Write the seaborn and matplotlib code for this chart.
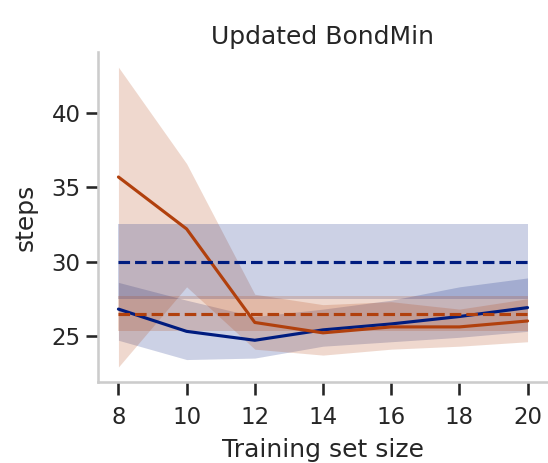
import matplotlib as mpl
mpl.use("Agg")
import matplotlib.pyplot as plt
import seaborn as sns
import numpy as np
import pandas as pd

# training set sizes
sizes = [8, 10, 12, 14, 16, 18, 20]

# blue model: mean and band
blue_mean = [26.8, 25.3, 24.7, 25.4, 25.8, 26.3, 26.9]
blue_hi = [28.6, 27.4, 26.3, 26.8, 27.4, 28.3, 28.9]
blue_lo = [24.7, 23.4, 23.5, 24.3, 24.6, 24.9, 25.3]

# orange model: mean and band
orange_mean = [35.7, 32.2, 25.9, 25.2, 25.6, 25.6, 26.0]
orange_hi = [43.1, 36.6, 27.8, 27.1, 27.3, 26.8, 27.5]
orange_lo = [22.9, 28.3, 24.1, 23.7, 24.1, 24.3, 24.6]

# baselines (mean, lower, upper)
blue_base = [30.0, 27.5, 32.5]
orange_base = [26.45, 25.3, 27.7]

sns.set_theme(context="talk", style="ticks",
              rc={"axes.edgecolor": ".8", "xtick.color": ".15", "ytick.color": ".15",
                  "xtick.major.pad": 8.5})
pal = sns.color_palette("dark")
c_blue, c_orange = pal[0], pal[1]

df = pd.DataFrame({
    "size": sizes * 2,
    "steps": blue_mean + orange_mean,
    "model": ["blue"] * len(sizes) + ["orange"] * len(sizes),
})

fig = plt.figure(figsize=(5.48, 4.63), dpi=100)
ax = fig.add_axes([0.1788, 0.175, 0.8212, 0.7123])

ax.fill_between(sizes, blue_lo, blue_hi, color=c_blue, alpha=0.2, lw=0)
ax.fill_between(sizes, orange_lo, orange_hi, color=c_orange, alpha=0.2, lw=0)
ax.fill_between([sizes[0], sizes[-1]], blue_base[1], blue_base[2], color=c_blue, alpha=0.2, lw=0)
ax.fill_between([sizes[0], sizes[-1]], orange_base[1], orange_base[2], color=c_orange, alpha=0.2, lw=0)

sns.lineplot(data=df, x="size", y="steps", hue="model",
             palette=[c_blue, c_orange], legend=False, ax=ax)
ax.plot([sizes[0], sizes[-1]], [blue_base[0]] * 2, ls="--", color=c_blue)
ax.plot([sizes[0], sizes[-1]], [orange_base[0]] * 2, ls="--", color=c_orange)

ax.set_xticks(sizes)
ax.set_yticks([25, 30, 35, 40])
ax.set_xlabel("Training set size", labelpad=6)
ax.set_ylabel("steps", labelpad=10)
ax.set_title("Updated BondMin")
sns.despine(ax=ax)

fig.savefig("out.png", dpi=100)
